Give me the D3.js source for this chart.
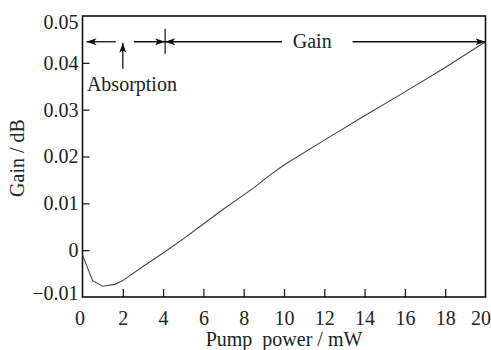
<!DOCTYPE html>
<html><head><meta charset="utf-8">
<script src="https://cdn.jsdelivr.net/npm/d3@7"></script>
<style>body{margin:0;background:#fff}svg{display:block}</style>
</head><body><svg id="c" width="491" height="350"></svg>
<script>
const pumpPower = [0, 0.5, 1, 1.6, 2, 3, 4, 5, 6, 7, 7.7, 8.5, 9.2, 10, 12, 14, 16, 18, 20];
const gainDb = [-0.001, -0.0065, -0.0077, -0.0073, -0.0065, -0.0035, -0.0006, 0.0024, 0.0056, 0.0088, 0.0109, 0.0133, 0.0157, 0.0182, 0.0235, 0.0287, 0.0338, 0.039, 0.0445];
const xTicks = [0, 2, 4, 6, 8, 10, 12, 14, 16, 18, 20];
const yTicks = [-0.01, 0, 0.01, 0.02, 0.03, 0.04, 0.05];
const yTickLabels = ["\u22120.01", "0", "0.01", "0.02", "0.03", "0.04", "0.05"];
const annotLevel = 0.0445, absorbX = 2, boundaryX = 4.1, gainLabelX = 11.4;

const FONT = "'Liberation Serif', 'Times New Roman', Times, serif";
const svg = d3.select("#c");
const L = 82.5, R = 485.5, T = 16, B = 297;
const x = d3.scaleLinear().domain([0, 20]).range([L, R]);
const y = d3.scaleLinear().domain([-0.01, 0.05]).range([B, T]);
const fs = 20;

const defs = svg.append("defs");
defs.append("marker").attr("id","ah").attr("viewBox","0 0 10 10").attr("refX",10).attr("refY",5)
  .attr("markerWidth",10).attr("markerHeight",10).attr("markerUnits","userSpaceOnUse").attr("orient","auto-start-reverse")
  .append("path").attr("d","M0,1.5 L10,5 L0,8.5 L2.5,5 Z").attr("fill","#111");

const xa = svg.append("g").attr("transform",`translate(0,${B})`)
  .call(d3.axisBottom(x).tickValues(xTicks).tickSize(-8).tickPadding(14).tickFormat(d3.format("d")));
const ya = svg.append("g").attr("transform",`translate(${L},0)`)
  .call(d3.axisLeft(y).tickValues(yTicks).tickSize(-7).tickPadding(4).tickFormat((d,i)=>yTickLabels[i]));
[xa, ya].forEach(g=>{
  g.attr("font-family", null);
  g.select(".domain").remove();
  g.selectAll(".tick line").attr("stroke","#222").attr("stroke-width",1.3);
  g.selectAll("text").style("font-size", fs+"px").style("font-family", FONT).attr("fill","#222");
});
xa.selectAll(".tick").filter(d=>d===0||d===20).select("line").remove();
xa.selectAll(".tick text").attr("dx", d=> d===0? -3 : d===20 ? -5 : 0);
ya.selectAll(".tick").filter(d=>d===0.05||d===-0.01).select("line").remove();
ya.selectAll(".tick text").attr("dy", d=> d===0.05? "0.6em" : d===-0.01 ? "0.1em" : "0.32em");

svg.append("rect").attr("x",L).attr("y",T).attr("width",R-L).attr("height",B-T)
  .attr("fill","none").attr("stroke","#111").attr("stroke-width",1.6);

svg.append("path").datum(pumpPower.map((p,i)=>[p,gainDb[i]]))
  .attr("d", d3.line().x(d=>x(d[0])).y(d=>y(d[1])))
  .attr("fill","none").attr("stroke","#444").attr("stroke-width",1.1);

const ay = y(annotLevel);
const seg = (x1,x2,startArrow,endArrow)=>{
  const l = svg.append("line").attr("x1",x(x1)).attr("x2",x(x2)).attr("y1",ay).attr("y2",ay)
    .attr("stroke","#111").attr("stroke-width",1.3);
  if(startArrow) l.attr("marker-start","url(#ah)");
  if(endArrow) l.attr("marker-end","url(#ah)");
};
seg(0.2, 1.65, true, false);
seg(2.55, boundaryX, false, true);
seg(boundaryX, 9.9, true, false);
seg(13.4, 20, false, true);
svg.append("line").attr("x1",x(boundaryX)).attr("x2",x(boundaryX)).attr("y1",ay-13).attr("y2",ay+12)
  .attr("stroke","#111").attr("stroke-width",1.2);
svg.append("line").attr("x1",x(absorbX)).attr("x2",x(absorbX)).attr("y1",ay+27).attr("y2",ay+1)
  .attr("stroke","#111").attr("stroke-width",1.3).attr("marker-end","url(#ah)");

const txt = (sel)=>sel.style("font-size",fs+"px").style("font-family",FONT).attr("fill","#222");
txt(svg.append("text").attr("x",x(gainLabelX)).attr("y",ay+6).attr("text-anchor","middle").text("Gain"));
txt(svg.append("text").attr("x",x(0.22)).attr("y",ay+49).text("Absorption"));
txt(svg.append("text").attr("x",284).attr("y",346).attr("text-anchor","middle")
  .style("white-space","pre").text("Pump  power / mW"));
txt(svg.append("text").attr("transform",`translate(24,158) rotate(-90)`).attr("text-anchor","middle")
  .style("white-space","pre").text("Gain / dB"));
</script></body></html>
